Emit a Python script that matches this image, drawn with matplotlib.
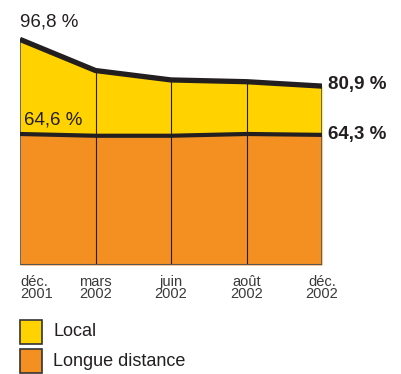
import matplotlib.pyplot as plt
from matplotlib.patches import Rectangle

mois = ['déc.\n2001', 'mars\n2002', 'juin\n2002', 'août\n2002', 'déc.\n2002']
local = [96.8, 86.2, 83.0, 82.4, 80.9]
longue = [64.6, 64.0, 64.0, 64.6, 64.3]
etiquettes = ['Local', 'Longue distance']

jaune = '#FFD200'
orange = '#F39021'
noir = '#231F20'

W, H = 401, 374
fig = plt.figure(figsize=(W / 100, H / 100), dpi=100)
# axe en pixels: x 20->322, y 265 (20 %) -> 30 (100 %)
ax = fig.add_axes([20 / W, (H - 265) / H, 302 / W, 235 / H])
x = list(range(len(mois)))
ax.fill_between(x, 20, longue, color=orange, lw=0)
ax.fill_between(x, longue, local, color=jaune, lw=0)
for i in x[1:-1]:
    ax.plot([i, i], [20, local[i]], color=noir, lw=0.8)
for i in (x[0], x[-1]):
    ax.plot([i, i], [20, local[i]], color='#555555', lw=1.2)
ax.plot([x[0], x[-1]], [20, 20], color='#555555', lw=1.5)
ax.plot(x, local, color=noir, lw=3.8, solid_capstyle='butt')
ax.plot(x, longue, color=noir, lw=3.0, solid_capstyle='butt')
ax.set_xlim(0, 4)
ax.set_ylim(20, 100)
ax.axis('off')

txt = dict(fontsize=13.5, color='#231F20', family='Liberation Sans')
ax.annotate('96,8 %', (0, local[0]), xytext=(0, 9), textcoords='offset pixels',
            ha='left', va='bottom', **txt)
ax.annotate('64,6 %', (0, longue[0]), xytext=(4, 5), textcoords='offset pixels',
            ha='left', va='bottom', **txt)
ax.annotate('80,9 %', (4, local[-1]), xytext=(6, 2), textcoords='offset pixels',
            ha='left', va='center', fontweight='bold', **txt)
ax.annotate('64,3 %', (4, longue[-1]), xytext=(6, 0), textcoords='offset pixels',
            ha='left', va='center', fontweight='bold', **txt)

for i, m in enumerate(mois):
    ax.annotate(m, (i, 20), xytext=(0, -10), textcoords='offset pixels',
                ha='left' if i == 0 else 'center', va='top', fontsize=10.5,
                color='#3a3a3a', family='Liberation Sans', linespacing=0.85)

for j, (lab, c) in enumerate(zip(etiquettes, [jaune, orange])):
    y0 = H - 344 - j * 29
    fig.patches.append(Rectangle((20 / W, y0 / H), 22 / W, 24 / H, transform=fig.transFigure,
                                 facecolor=c, edgecolor='#333333', lw=1.2))
    fig.text(53 / W, (y0 + 12) / H, lab, ha='left', va='center', fontsize=13,
             color='#231F20', family='Liberation Sans')

fig.savefig('out.png', dpi=100)
